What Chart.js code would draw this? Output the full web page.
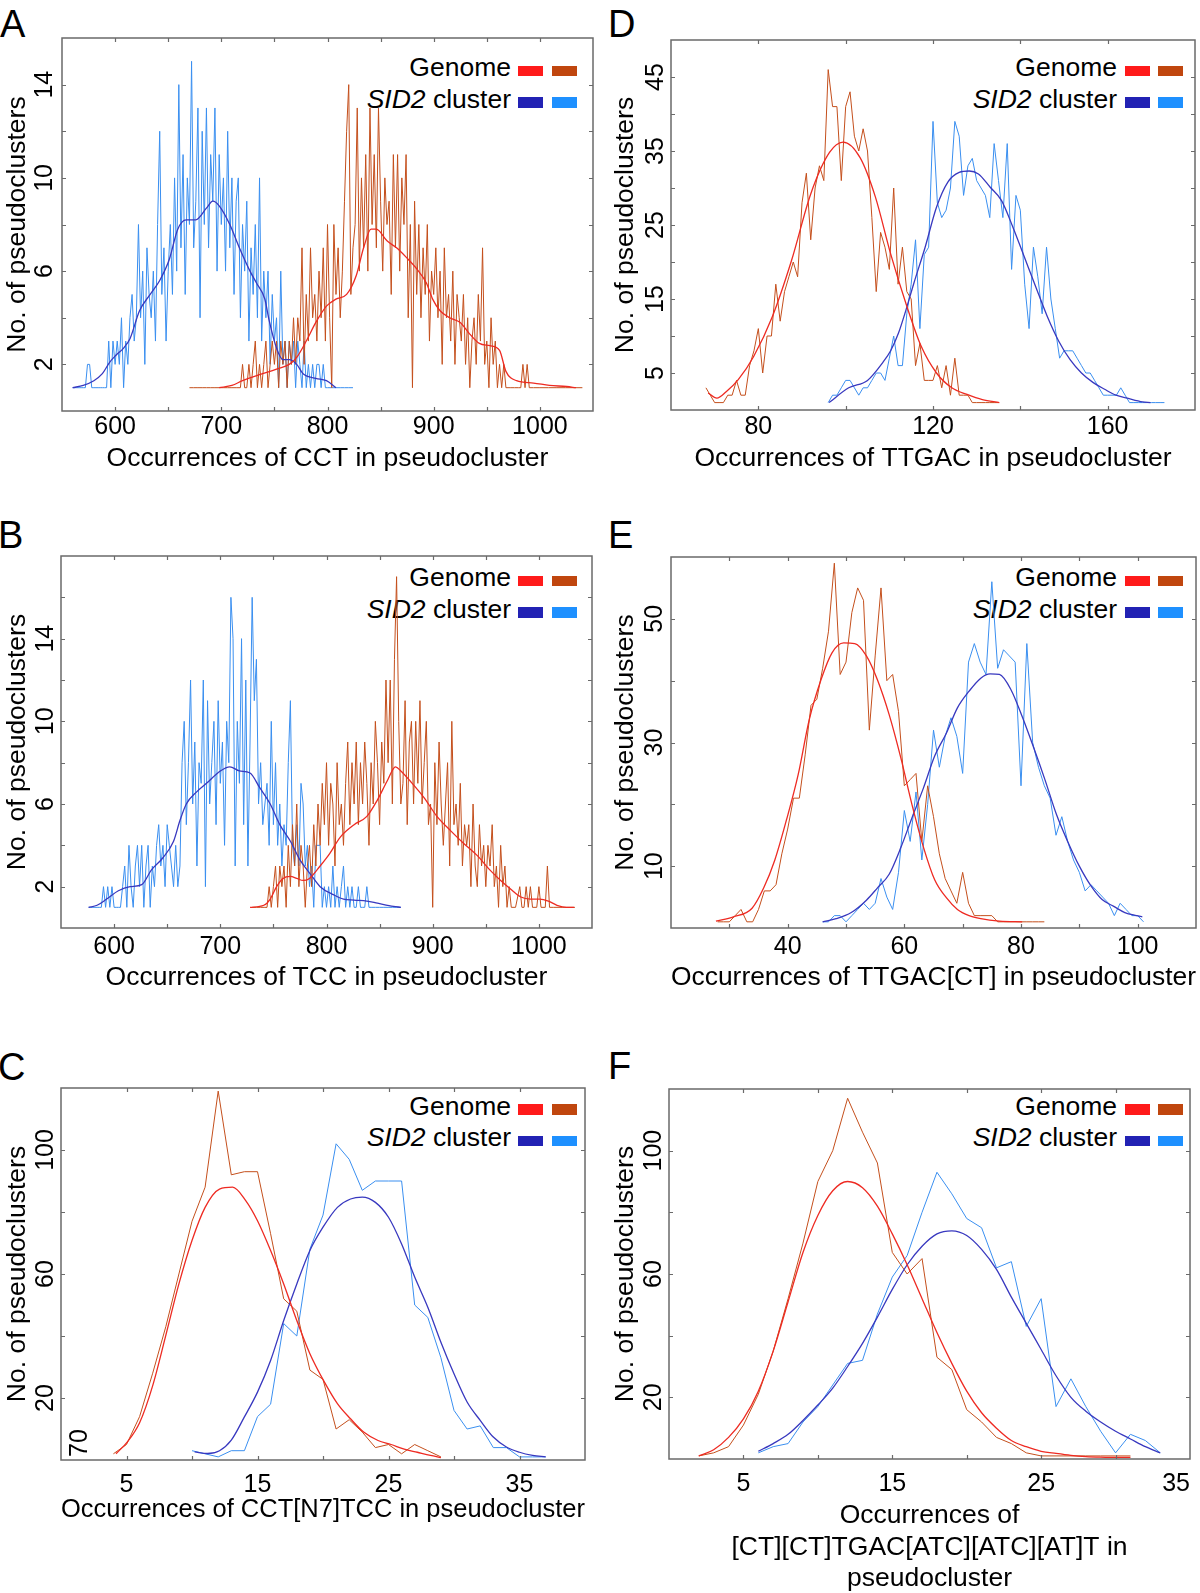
<!DOCTYPE html>
<html><head><meta charset="utf-8">
<script src="https://cdn.jsdelivr.net/npm/chart.js@4.4.0/dist/chart.umd.min.js"></script>
<style>
html,body{margin:0;padding:0;background:#fff;overflow:hidden;width:1200px;height:1593px;}
body{position:relative;font-family:"Liberation Sans",Arial,Helvetica,sans-serif;color:#000;}
.wrap{position:absolute;}
.letter{position:absolute;font-size:38px;line-height:38px;}
.legtxt{position:absolute;font-size:26.5px;line-height:26.5px;text-align:right;white-space:nowrap;width:300px;}
.sw{position:absolute;width:25px;height:10.5px;}
</style></head><body>
<script>
// ---------------- DATA ----------------
// Panel A: CCT
const A_xTickLabels = [600, 700, 800, 900, 1000];
const A_yTickLabels = [2, 6, 10, 14];
const A_sid2Raw = [[560,1],[562,1],[564,1],[566,1],[568,1],[570,1],[572,1],[574,2],[576,2],[578,1],
[580,1],[582,1],[584,1],[586,1],[588,1],[590,1],[592,1],[594,3],[596,1],[598,3],
[600,2],[602,3],[604,2],[606,4],[608,1],[610,3],[612,2],[614,4],[616,5],[618,3],
[620,4],[622,8],[624,4],[626,6],[628,2],[630,7],[632,5],[634,4],[636,6],[638,3],
[640,8],[642,12],[644,5],[646,7],[648,3],[650,6],[652,8],[654,5],[656,10],[658,6],
[660,14],[662,7],[664,11],[666,5],[668,10],[670,8],[672,15],[674,7],[676,9],[678,13],
[680,4],[682,12],[684,8],[686,13],[688,7],[690,11],[692,9],[694,13],[696,6],[698,11],
[700,8],[702,10],[704,6],[706,12],[708,7],[710,10],[712,5],[714,9],[716,10],[718,4],
[720,8],[722,6],[724,9],[726,3],[728,7],[730,5],[732,8],[734,4],[736,10],[738,3],
[740,6],[742,4],[744,6],[746,2],[748,5],[750,3],[752,4],[754,1],[756,6],[758,2],
[760,3],[762,1],[764,3],[766,2],[768,3],[770,1],[772,3],[774,2],[776,1],[778,3],
[780,1],[782,2],[784,1],[786,2],[788,1],[790,2],[792,2],[794,1],[796,2],[798,1],
[800,1],[804,1],[808,1],[812,1],[816,1],[820,1],[824,1]];
const A_sid2Fit = [[560,1],[570,1.1],[580,1.3],[588,1.6],[595,2.1],[601,2.4],[608,2.7],[614,3.1],[623,4.3],[633,5.0],[642,5.6],[651,6.5],[659,7.8],[667,8.2],[676,8.2],[686,8.7],[692,9.0],[698,8.8],[708,8.0],[717,7.0],[727,6.0],[733,5.5],[741,4.8],[745,3.9],[752,2.7],[758,2.2],[764,2.2],[771,2.0],[777,1.6],[789,1.4],[799,1.3],[808,1.0]];
const A_genomeRaw = [[670,1],[674,1],[678,1],[682,1],[686,1],[690,1],[694,1],[698,1],[702,1],[706,1],[710,1],[714,1],
[718,1],[720,2],[722,1],[724,1],[726,2],[728,1],[730,2],[732,3],[734,1],[736,2],
[738,1],[740,2],[742,3],[744,1],[746,2],[748,3],[750,2],[752,3],[754,1],[756,3],
[758,2],[760,3],[762,1],[764,3],[766,2],[768,4],[770,2],[772,4],[774,3],[776,7],
[778,2],[780,5],[782,3],[784,7],[786,4],[788,5],[790,3],[792,6],[794,4],[796,7],
[798,3],[800,8],[802,4],[804,1],[806,8],[808,5],[810,7],[812,4],[814,6],[816,9],
[818,12],[820,14],[822,5],[824,7],[826,8],[828,13],[830,6],[832,10],[834,7],[836,11],
[838,6],[840,13],[842,8],[844,11],[846,7],[848,13],[850,9],[852,6],[854,10],[856,8],
[858,9],[860,5],[862,11],[864,7],[866,11],[868,6],[870,10],[872,8],[874,11],[876,4],
[878,8],[880,1],[882,9],[884,5],[886,8],[888,4],[890,7],[892,5],[894,8],[896,3],
[898,6],[900,5],[902,7],[904,4],[906,6],[908,2],[910,7],[912,4],[914,5],[916,3],
[918,6],[920,2],[922,5],[924,4],[926,3],[928,5],[930,2],[932,4],[934,1],[936,3],
[938,4],[940,2],[942,5],[944,3],[946,7],[948,2],[950,3],[952,1],[954,4],[956,2],
[958,3],[960,1],[962,2],[964,1],[966,2],[968,1],[972,1],[976,1],[980,1],[982,1],
[984,2],[986,1],[988,2],[990,1],[994,1],[1000,1],[1008,1],[1016,1],[1024,1],[1032,1],[1040,1]];
const A_genomeFit = [[698,1.0],[710,1.1],[720,1.3],[739,1.6],[752,1.8],[764,2.0],[771,2.3],[780,3.0],[789,3.8],[799,4.5],[808,4.8],[818,5.0],[827,5.8],[834,7.0],[841,7.8],[846,7.8],[856,7.3],[865,7.0],[874,6.6],[884,6.1],[893,5.5],[899,4.8],[906,4.3],[915,4.0],[925,3.8],[934,3.3],[943,2.9],[953,2.8],[962,2.6],[968,1.7],[978,1.3],[994,1.2],[1009,1.1],[1025,1.05],[1034,1.0]];

// Panel B: TCC
const B_xTickLabels = [600, 700, 800, 900, 1000];
const B_yTickLabels = [2, 6, 10, 14];
const B_sid2Raw = [[576,1],[578,1],[580,1],[582,1],[584,1],[586,1],[588,1],[590,2],[592,1],[594,2],
[596,1],[598,2],[600,1],[602,1],[604,1],[606,1],[608,2],[610,3],[612,1],[614,4],
[616,2],[618,1],[620,3],[622,4],[624,2],[626,4],[628,1],[630,3],[632,4],[634,1],
[636,3],[638,2],[640,4],[642,5],[644,3],[646,4],[648,2],[650,5],[652,4],[654,3],
[656,2],[658,4],[660,2],[662,3],[664,8],[666,10],[668,5],[670,8],[672,12],[674,6],
[676,9],[678,3],[680,8],[682,7],[684,12],[686,2],[688,11],[690,6],[692,8],[694,10],
[696,5],[698,11],[700,7],[702,9],[704,4],[706,10],[708,8],[710,16],[712,14],[714,3],
[716,10],[718,7],[720,14],[722,5],[724,12],[726,3],[728,9],[730,16],[732,11],[734,13],
[736,6],[738,8],[740,5],[742,6],[744,7],[746,4],[748,10],[750,5],[752,8],[754,4],
[756,6],[758,3],[760,5],[762,4],[764,8],[766,11],[768,4],[770,3],[772,5],[774,3],
[776,7],[778,6],[780,3],[782,4],[784,2],[786,3],[788,1],[790,4],[792,4],[794,4],
[796,1],[798,2],[800,1],[802,2],[804,1],[806,3],[808,1],[810,2],[812,1],[814,2],
[816,3],[818,1],[820,2],[822,1],[824,2],[826,1],[828,1],[830,2],[832,1],[834,1],
[836,1],[838,2],[840,1],[842,1],[846,1],[850,1],[854,1],[858,1],[862,1],[866,1],[870,1]];
const B_sid2Fit = [[576,1.0],[584,1.1],[593,1.4],[604,1.8],[615,2.0],[626,2.1],[635,2.8],[646,3.4],[656,4.2],[662,5.2],[668,6.0],[678,6.6],[687,7.0],[700,7.6],[709,7.8],[718,7.6],[728,7.5],[737,6.8],[747,6.0],[756,5.0],[766,4.2],[775,3.3],[785,2.6],[794,2.0],[807,1.6],[816,1.4],[826,1.35],[838,1.3],[848,1.2],[863,1.05],[870,1.0]];
const B_genomeRaw = [[730,1],[734,1],[738,1],[742,1],[744,1],[746,2],[748,1],
[750,2],[752,3],[754,1],[756,3],[758,2],[760,3],[762,1],[764,4],[766,2],[768,5],
[770,3],[772,6],[774,2],[776,4],[778,3],[780,1],[782,3],[784,4],[786,2],[788,5],
[790,3],[792,6],[794,4],[796,7],[798,5],[800,8],[802,4],[804,7],[806,6],[808,3],
[810,8],[812,5],[814,6],[816,4],[818,7],[820,9],[822,5],[824,8],[826,6],[828,9],
[830,5],[832,8],[834,6],[836,9],[838,7],[840,4],[842,8],[844,6],[846,10],[848,8],
[850,5],[852,9],[854,7],[856,12],[858,8],[860,12],[862,6],[864,13],[866,17],[868,10],
[870,6],[872,7],[874,11],[876,5],[878,9],[880,10],[882,6],[884,10],[886,7],[888,11],
[890,6],[892,8],[894,10],[896,5],[898,6],[900,1],[902,8],[904,5],[906,9],[908,6],
[910,4],[912,6],[914,8],[916,3],[918,10],[920,5],[922,6],[924,4],[926,7],[928,3],
[930,5],[932,4],[934,5],[936,2],[938,6],[940,3],[942,2],[944,5],[946,3],[948,4],
[950,2],[952,4],[954,3],[956,5],[958,2],[960,3],[962,1],[964,4],[966,2],[968,3],
[970,1],[972,2],[974,1],[978,1],[982,2],[984,1],[986,1],[988,2],
[990,1],[992,2],[994,1],[998,1],[1000,2],[1002,1],[1006,1],[1008,3],
[1010,1],[1014,1],[1018,1],[1022,1],[1026,1],[1030,1],[1034,1]];
const B_genomeFit = [[728,1.0],[741,1.1],[747,1.4],[753,2.0],[759,2.4],[766,2.5],[772,2.4],[778,2.3],[784,2.4],[794,3.0],[803,3.6],[813,4.4],[826,5.0],[838,5.4],[848,6.2],[857,7.1],[865,7.8],[870,7.6],[879,7.1],[892,6.3],[904,5.4],[917,4.7],[929,4.1],[942,3.5],[954,2.8],[964,2.3],[973,1.9],[983,1.5],[992,1.4],[1001,1.4],[1009,1.3],[1017,1.1],[1026,1.0],[1033,1.0]];

// Panel C: CCT[N7]TCC
const C_xTickLabels = [5, 15, 25, 35];
const C_yTickLabels = [20, 60, 100];
const C_cornerLabel = '70';
const C_genomeRaw = [[4,2],[5,5],[6,14],[7,28],[8,43],[9,60],[10,77],[11,88],[12,119],[13,92],[14,93],[15,93],[16,73],[17,52],[18,48],[19,29],[20,26],[21,10],[22,13],[23,9],[24,4],[25,5],[26,2],[27,5],[28,3],[29,1]];
const C_genomeFit = [[4.2,2],[5.1,6],[6,12],[7,24],[8,40.2],[9,56.8],[10,70.8],[11,81.5],[12.1,87.4],[13.1,88],[14.1,83.7],[15,77.2],[16,67.6],[17,56.8],[18,45],[19,34.3],[20.1,25.2],[21.1,18.2],[22.1,13.3],[23.1,9],[24.2,6.3],[25.2,5],[26.2,3.5],[27.2,2.5],[28.2,1.5],[29,0.8]];
const C_sid2Raw = [[10,3],[11,2],[12,1],[13,3],[14,3],[15,14],[16,18],[17,44],[18,40],[19,68],[20,79],[21,102],[22,97],[23,87],[24,90],[25,90],[26,90],[27,50],[28,46],[29,33],[30,16],[31,10],[32,11],[33,4],[34,4],[35,1],[36,1],[37,1]];
const C_sid2Fit = [[10.2,2.6],[11.2,2.1],[12.1,3],[13,6.4],[14,13.9],[15,21.9],[16,32.1],[17,45],[18,56.8],[19,67.6],[20,75.1],[21.1,81.5],[22.1,84.2],[23,84.8],[24,83.1],[25,78.3],[26,69.7],[27,59],[28,49.3],[29,38],[30,27.8],[31,18.7],[32,12.8],[33,7.4],[34,4.2],[35,2.5],[36,1.5],[37,1]];

// Panel D: TTGAC
const D_xTickLabels = [80, 120, 160];
const D_yTickLabels = [5, 15, 25, 35, 45];
const D_genomeRaw = [[68,3],[69,2],[70,1],[71,1],[72,1],[73,2],[74,2],[75,4],[76,2],[77,2],[78,6],[79,8],[80,11],[81,5],[82,10],[83,10],[84,17],[85,12],[86,16],[87,18],[88,20],[89,18],[90,28],[91,32],[92,23],[93,30],[94,33],[95,31],[96,46],[97,41],[98,41],[99,31],[100,41],[101,43],[102,37],[103,35],[104,38],[105,35],[106,26],[107,16],[108,24],[109,22],[110,19],[111,30],[112,17],[113,22],[114,16],[115,15],[116,6],[117,9],[118,4],[119,4],[120,4],[121,6],[122,3],[123,6],[124,2],[125,7],[126,2],[127,2],[128,2],[129,1],[130,1],[131,1],[132,1],[133,1],[134,1],[135,1]];
const D_genomeFit = [[68.5,2.3],[70.5,1.6],[72.7,2.5],[75.4,4.1],[78.9,7.2],[83.2,12.6],[87.6,20.2],[92,29.2],[96.3,34.8],[99.4,36.2],[103.3,34.1],[106.8,28.8],[110.3,21.1],[113.8,14.4],[117.3,8.6],[120.8,5.0],[124.3,3.0],[127.8,2.1],[131.3,1.4],[135.2,1.0]];
const D_sid2Raw = [[96,1],[97,2],[98,2],[99,3],[100,4],[101,4],[102,3],[103,2],[104,3],[105,3],[106,4],[107,5],[108,5],[109,4],[110,7],[111,10],[112,6],[113,6],[114,13],[115,17],[116,23],[117,11],[118,21],[119,22],[120,39],[121,28],[122,26],[123,27],[124,30],[125,39],[126,37],[127,29],[128,33],[129,34],[130,31],[131,30],[132,29],[133,26],[134,36],[135,31],[136,26],[137,36],[138,19],[139,29],[140,27],[141,17],[142,11],[143,22],[144,18],[145,13],[146,22],[147,15],[148,11],[149,7],[150,8],[151,8],[152,8],[153,7],[154,6],[155,5],[156,5],[157,4],[158,3],[159,2],[160,2],[161,2],[162,2],[163,3],[164,2],[165,1],[166,1],[167,1],[168,1],[169,1],[170,1],[171,1],[172,1],[173,1]];
const D_sid2Fit = [[96.2,1.0],[100.7,3.0],[105,4.0],[108.6,6.5],[110.3,8.0],[112.1,10.4],[113.8,13.5],[115.6,17.1],[118.2,22],[120.8,27.4],[123.4,30.8],[126,32.1],[128.3,32.3],[130.4,31.9],[133.1,30.1],[135.7,28.3],[138.3,24.7],[140.9,20.7],[143.5,16.7],[146.2,12.6],[148.8,9.3],[151.4,6.8],[154,5.0],[156.7,3.7],[159.3,2.8],[161.9,2.0],[164.5,1.6],[168,1.1],[169.8,1.0]];

// Panel E: TTGAC[CT]
const E_xTickLabels = [40, 60, 80, 100];
const E_yTickLabels = [10, 30, 50];
const E_genomeRaw = [[28,1],[29,1],[30,1],[31,2],[32,3],[33,1],[34,1],[35,3],[36,6],[37,6],[38,7],[39,12],[40,16],[41,21],[42,21],[43,28],[44,36],[45,37],[46,42],[47,48],[48,59],[49,41],[50,43],[51,51],[52,55],[53,53],[54,32],[55,44],[56,55],[57,40],[58,41],[59,35],[60,23],[61,24],[62,25],[63,14],[64,23],[65,18],[66,12],[67,8],[68,6],[69,4],[70,9],[71,4],[72,2],[73,2],[74,2],[75,2],[76,1],[77,1],[78,1],[79,1],[80,1],[81,1],[82,1],[83,1],[84,1]];
const E_genomeFit = [[27.7,1.1],[30.7,1.8],[33.9,3.2],[35.9,6.5],[37.8,11],[39.8,17.5],[41.8,24.8],[43.7,33.7],[45.7,40.1],[47.6,44.5],[49.6,46.1],[51.5,46],[53.5,44],[55.4,40.1],[57.4,34.5],[59.4,27.5],[61.3,20],[63.3,13],[65.2,7.8],[67.2,4.9],[69.1,3],[71.1,2],[73.1,1.5],[76.3,1.1],[80.2,1.0]];
const E_sid2Raw = [[46,1],[47,1],[48,2],[49,2],[50,1],[51,2],[52,3],[53,4],[54,3],[55,4],[56,8],[57,5],[58,3],[59,9],[60,19],[61,14],[62,22],[63,11],[64,20],[65,32],[66,26],[67,31],[68,34],[69,31],[70,25],[71,43],[72,46],[73,43],[74,41],[75,56],[76,42],[77,45],[78,44],[79,43],[80,23],[81,46],[82,30],[83,26],[84,23],[85,21],[86,15],[87,18],[88,14],[89,11],[90,9],[91,6],[92,7],[93,6],[94,5],[95,4],[96,2],[97,4],[98,3],[99,2],[100,2],[101,1]];
const E_sid2Fit = [[46,1],[48.3,1.5],[50.9,2.5],[53.5,4.5],[55.4,6.5],[57.4,8.7],[59.4,13],[61.3,17.8],[63.3,22.7],[65.2,27.8],[67.2,31.5],[69.1,35.6],[71.1,38.3],[73.1,40.4],[74.7,41.1],[76.3,41],[78.3,38.5],[80.2,34.2],[82.2,29.1],[84.1,24],[86.1,18.3],[88,14],[90,10],[92,6.8],[93.9,4.6],[95.9,3.5],[97.8,2.5],[99.8,2],[100.8,1.8]];

// Panel F: [CT][CT]TGAC[ATC][ATC][AT]T
const F_xTickLabels = [5, 15, 25, 35];
const F_yTickLabels = [20, 60, 100];
const F_genomeRaw = [[2,1],[3,2],[4,4],[5,11],[6,21],[7,35],[8,52],[9,70],[10,90],[11,100],[12,117],[13,106],[14,96],[15,67],[16,60],[17,65],[18,33],[19,29],[20,16],[21,12],[22,7],[23,5],[24,2],[25,1],[26,1],[27,1],[28,1],[29,1],[30,1],[31,1]];
const F_genomeFit = [[2,1],[3,3],[4,7],[5,13],[6,22],[7,35],[8,51],[9,67],[10,79],[11,87],[12,90],[13,88],[14,82],[15,73],[16,63],[17,52],[18,41],[19,31],[20,22],[21,15],[22,10],[23,6],[24,4],[25,2.5],[26,1.8],[27,1.2],[28,0.8],[29,0.6],[30,0.5],[31,0.5]];
const F_sid2Raw = [[6,2],[7,4],[8,5],[9,12],[10,17],[11,24],[12,31],[13,32],[14,47],[15,59],[16,66],[17,80],[18,93],[19,86],[20,78],[21,75],[22,62],[23,64],[24,43],[25,52],[26,17],[27,26],[28,17],[29,9],[30,2],[31,8],[32,6],[33,2]];
const F_sid2Fit = [[6,2.5],[7,5],[8,8],[9,12.5],[10,17.5],[11,23],[12,30],[13,37.5],[14,46],[15,55],[16,63],[17,69],[18,73],[19,74],[20,72.5],[21,68],[22,61.5],[23,52.5],[24,44],[25,35.5],[26,27],[27,20],[28,15.5],[29,12],[30,9],[31,6.5],[32,4],[33,2]];

const legendLabels = ['Genome', 'SID2', ' cluster'];
const yTitle = 'No. of pseudoclusters';

// ---------------- STYLE ----------------
const FONT = '"Liberation Sans", Arial, Helvetica, sans-serif';
const COLORS = {genomeRaw:'#c44f1c', genomeFit:'#ee2a22', sid2Raw:'#3a8ff0', sid2Fit:'#3838bf'};
const SWATCH = {genomeFit:'#ff1a1a', genomeRaw:'#c0460e', sid2Fit:'#2222b4', sid2Raw:'#1e90ff'};

const panels = [
 {letter:'A', lx:0, lb:37, cx:0, cy:0, cw:600, ch:475, L:62, R:593, T:38, B:411,
  x:{min:550,max:1050,step:50,labels:A_xTickLabels,pad:1,title:'Occurrences of CCT in pseudocluster'},
  y:{min:0,max:16,step:2,labels:A_yTickLabels,pad:3,tpad:1.5},
  sets:[A_genomeFit,A_sid2Fit,A_genomeRaw,A_sid2Raw], leg:{b1:76.7,col:0}},
 {letter:'D', lx:608, lb:37, cx:600, cy:0, cw:600, ch:475, L:671, R:1195, T:40, B:410,
  x:{min:60,max:180,step:20,labels:D_xTickLabels,pad:2,title:'Occurrences of TTGAC in pseudocluster'},
  y:{min:0,max:50,step:5,labels:D_yTickLabels,pad:0.6,tpad:9.4},
  sets:[D_genomeFit,D_sid2Fit,D_genomeRaw,D_sid2Raw], leg:{b1:76.7,col:1}},
 {letter:'B', lx:-2, lb:548, cx:0, cy:500, cw:600, ch:494, L:61, R:592, T:556, B:928,
  x:{min:550,max:1050,step:50,labels:B_xTickLabels,pad:4,title:'Occurrences of TCC in pseudocluster'},
  y:{min:0,max:18,step:2,labels:B_yTickLabels,pad:1.1,tpad:1.5},
  sets:[B_genomeFit,B_sid2Fit,B_genomeRaw,B_sid2Raw], leg:{b1:586.7,col:0}},
 {letter:'E', lx:608, lb:548, cx:600, cy:500, cw:600, ch:494, L:671, R:1197, T:557, B:928,
  x:{min:20,max:110,step:10,labels:E_xTickLabels,pad:4,title:'Occurrences of TTGAC[CT] in pseudocluster'},
  y:{min:0,max:60,step:10,labels:E_yTickLabels,pad:1.6,tpad:9.4},
  sets:[E_genomeFit,E_sid2Fit,E_genomeRaw,E_sid2Raw], leg:{b1:586.7,col:1}},
 {letter:'C', lx:-2, lb:1080, cx:0, cy:1030, cw:600, ch:496, L:61, R:585, T:1088, B:1460,
  x:{min:0,max:40,step:5,labels:C_xTickLabels,pad:10,title:'Occurrences of CCT[N7]TCC in pseudocluster'},
  y:{min:0,max:120,step:20,labels:C_yTickLabels,pad:-6.3,tpad:1.5},
  sets:[C_genomeFit,C_sid2Fit,C_genomeRaw,C_sid2Raw], leg:{b1:1115,col:0}, corner:true},
 {letter:'F', lx:608, lb:1079, cx:600, cy:1030, cw:600, ch:565, L:669, R:1193, T:1089, B:1459,
  x:{min:0,max:35,step:5,labels:F_xTickLabels,pad:10,align:'inner',title:['Occurrences of','[CT][CT]TGAC[ATC][ATC][AT]T in','pseudocluster']},
  y:{min:0,max:120,step:20,labels:F_yTickLabels,pad:-5.85,tpad:9.4},
  sets:[F_genomeFit,F_sid2Fit,F_genomeRaw,F_sid2Raw], leg:{b1:1115,col:1}}
];

const framePlugin = {
  id:'frame',
  afterDraw(chart){
    const {ctx, chartArea:{left,right,top,bottom}, scales:{x,y}} = chart;
    ctx.save();
    ctx.strokeStyle = '#6a6a6a';
    ctx.lineWidth = 1.5;
    ctx.strokeRect(left, top, right-left, bottom-top);
    ctx.lineWidth = 1.2;
    const tl = 4;
    ctx.beginPath();
    x.ticks.forEach(t => {
      if (t.value <= x.min || t.value >= x.max) return;
      const px = Math.round(x.getPixelForValue(t.value)) + 0.5;
      ctx.moveTo(px, bottom); ctx.lineTo(px, bottom - tl);
      ctx.moveTo(px, top); ctx.lineTo(px, top + tl);
    });
    y.ticks.forEach(t => {
      if (t.value <= y.min || t.value >= y.max) return;
      const py = Math.round(y.getPixelForValue(t.value)) + 0.5;
      ctx.moveTo(left, py); ctx.lineTo(left + tl, py);
      ctx.moveTo(right, py); ctx.lineTo(right - tl, py);
    });
    ctx.stroke();
    ctx.restore();
  }
};
const cornerPlugin = {
  id:'corner',
  afterDraw(chart){
    const {ctx, chartArea} = chart;
    ctx.save();
    ctx.translate(chartArea.left + 19, chartArea.bottom - 17);
    ctx.rotate(-Math.PI/2);
    ctx.font = '25px ' + FONT;
    ctx.fillStyle = '#000';
    ctx.textAlign = 'center';
    ctx.textBaseline = 'middle';
    ctx.fillText(C_cornerLabel, 0, 0);
    ctx.restore();
  }
};

function ds(points, color, width, smooth){
  return {data: points.map(p => ({x:p[0], y:p[1]})), borderColor: color, borderWidth: width,
    pointRadius: 0, fill: false, tension: smooth ? 0.4 : 0,
    cubicInterpolationMode: smooth ? 'monotone' : 'default'};
}

function addDiv(cls, css, html){
  const d = document.createElement('div');
  d.className = cls;
  Object.assign(d.style, css);
  d.innerHTML = html;
  document.body.appendChild(d);
  return d;
}

panels.forEach(p => {
  addDiv('letter', {left: p.lx + 'px', top: (p.lb - 32.2) + 'px'}, p.letter);
  const textRight = p.leg.col ? 1117 : 511;
  const redL = p.leg.col ? 1125 : 518;
  const brownL = p.leg.col ? 1158 : 552;
  const b1 = p.leg.b1, b2 = p.leg.b1 + 31.5;
  addDiv('legtxt', {left:(textRight-300)+'px', top:(b1-22.4)+'px'}, legendLabels[0]);
  addDiv('legtxt', {left:(textRight-300)+'px', top:(b2-22.4)+'px'}, '<i>' + legendLabels[1] + '</i>' + legendLabels[2]);
  addDiv('sw', {left:redL+'px', top:(b1-11)+'px', background:SWATCH.genomeFit}, '');
  addDiv('sw', {left:brownL+'px', top:(b1-11)+'px', background:SWATCH.genomeRaw}, '');
  addDiv('sw', {left:redL+'px', top:(b2-11)+'px', background:SWATCH.sid2Fit}, '');
  addDiv('sw', {left:brownL+'px', top:(b2-11)+'px', background:SWATCH.sid2Raw}, '');

  const wrap = addDiv('wrap', {left:p.cx+'px', top:p.cy+'px', width:p.cw+'px', height:p.ch+'px'}, '');
  const canvas = document.createElement('canvas');
  wrap.appendChild(canvas);
  const xl = p.x.labels, yl = p.y.labels;
  new Chart(canvas, {
    type: 'line',
    data: {datasets: [
      ds(p.sets[0], COLORS.genomeFit, 1.3, true),
      ds(p.sets[1], COLORS.sid2Fit, 1.3, true),
      ds(p.sets[2], COLORS.genomeRaw, 1, false),
      ds(p.sets[3], COLORS.sid2Raw, 1, false)
    ]},
    options: {
      responsive: true, maintainAspectRatio: false, animation: false, devicePixelRatio: 1,
      layout: {padding: {left:0, bottom:0, top: p.T - p.cy, right: p.cx + p.cw - p.R}},
      plugins: {legend:{display:false}, tooltip:{enabled:false}},
      events: [],
      scales: {
        x: {type:'linear', position:'bottom', min:p.x.min, max:p.x.max,
            grid:{display:false, drawTicks:false}, border:{display:false},
            ticks:{stepSize:p.x.step, autoSkip:false, minRotation:0, maxRotation:0, padding:p.x.pad,
                   align: p.x.align || 'center', color:'#000', font:{family:FONT, size:25},
                   callback: v => xl.includes(v) ? String(v) : ''},
            title:{display:true, text:p.x.title, color:'#000', font:{family:FONT, size:26.5}, padding:{top:0,bottom:0}},
            afterFit: s => { s.height = p.cy + p.ch - p.B; }},
        y: {type:'linear', position:'left', min:p.y.min, max:p.y.max,
            grid:{display:false, drawTicks:false}, border:{display:false},
            ticks:{stepSize:p.y.step, autoSkip:false, minRotation:90, maxRotation:90, crossAlign:'center',
                   padding:p.y.pad, color:'#000', font:{family:FONT, size:25},
                   callback: v => yl.includes(v) ? String(v) : ''},
            title:{display:true, text:yTitle, color:'#000', font:{family:FONT, size:26.5}, padding:{top:p.y.tpad,bottom:0}},
            afterFit: s => { s.width = p.L - p.cx; }}
      }
    },
    plugins: p.corner ? [framePlugin, cornerPlugin] : [framePlugin]
  });
});
</script>
</body></html>
